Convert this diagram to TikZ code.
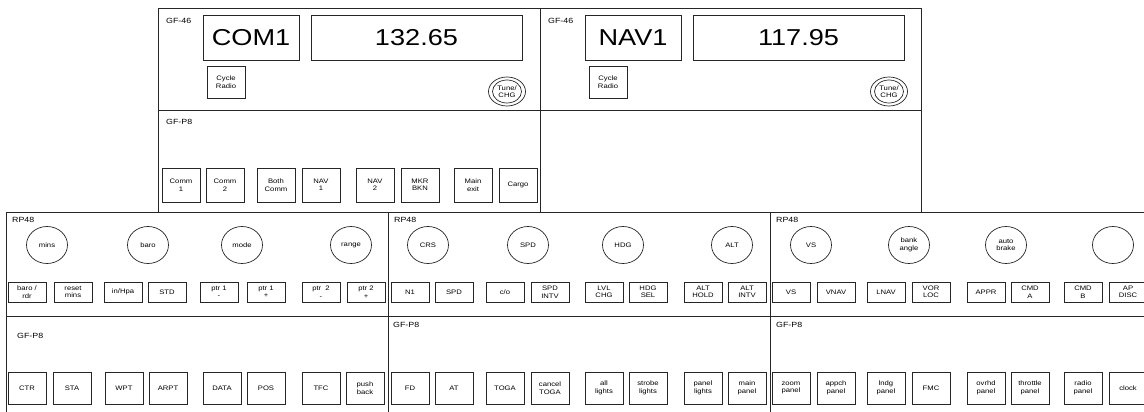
\documentclass[tikz,border=0pt]{standalone}
\usepackage{fontspec}
\setmainfont{Liberation Sans}[FakeStretch=1.18]
\usepackage{tikz}
\usetikzlibrary{shapes.geometric}

\begin{document}
\begin{tikzpicture}[x=1pt,y=-1pt]
\tikzstyle{every node}+=[inner sep=0pt]
\tikzstyle{frame}=[draw=black!85,line width=0.7pt]
\tikzstyle{key}=[frame,minimum width=38pt,align=center,font=\fontsize{6.5}{7.5}\selectfont]
\tikzstyle{tallkey}=[key,minimum height=34pt]
\tikzstyle{flatkey}=[key,minimum height=20pt]
\tikzstyle{knob}=[frame,ellipse,minimum width=41pt,minimum height=37pt,align=center,font=\fontsize{6.5}{7.5}\selectfont]
\tikzstyle{tag}=[anchor=west,font=\fontsize{7.5}{9}\selectfont]
\tikzstyle{display}=[frame,minimum height=45pt,font=\fontsize{23}{26}\selectfont]
\useasboundingbox (0,0) rectangle (1144,412);
\clip (0,0) rectangle (1144,412);
% panel frames
\draw [frame] (158,8) rectangle (540,110);
\draw [frame] (540,8) rectangle (921,110);
\draw [frame] (158,110) rectangle (540,212);
\draw [frame] (540,110) rectangle (921,212);
\draw [frame] (6,212) rectangle (388,316);
\draw [frame] (388,212) rectangle (770,316);
\draw [frame] (770,212) rectangle (1152,316);
\draw [frame] (6,316) rectangle (388,420);
\draw [frame] (388,316) rectangle (770,420);
\draw [frame] (770,316) rectangle (1152,420);
% GF-46 radios
\node [tag] (comtag) at (166,21) {GF-46};
\node [display,minimum width=96pt] (comname) at (251,37.5) {COM1};
\node [display,minimum width=211pt] (comfreq) at (416.5,37.5) {132.65};
\node [key,minimum height=32pt] (comcycle) at (226,82) {Cycle\\Radio};
\node [frame,ellipse,minimum width=37pt,minimum height=29pt] (comtune) at (507,91.5) {};
\node [knob,minimum width=29pt,minimum height=23pt] (comtunein) at (comtune) {Tune/\\CHG};
\node [tag] (navtag) at (548,21) {GF-46};
\node [display,minimum width=96pt] (navname) at (633,37.5) {NAV1};
\node [display,minimum width=211pt] (navfreq) at (798.5,37.5) {117.95};
\node [key,minimum height=32pt] (navcycle) at (608,82) {Cycle\\Radio};
\node [frame,ellipse,minimum width=37pt,minimum height=29pt] (navtune) at (889,91.5) {};
\node [knob,minimum width=29pt,minimum height=23pt] (navtunein) at (navtune) {Tune/\\CHG};
% GF-P8 radio keys
\node [tag] (radiotag) at (166,122) {GF-P8};
\node [tallkey] (ra1) at (181,185) {Comm\\1};
\node [tallkey] (ra2) at (225,185) {Comm\\2};
\node [tallkey] (ra3) at (276,185) {Both\\Comm};
\node [tallkey] (ra4) at (321,185) {NAV\\1};
\node [tallkey] (ra5) at (375,185) {NAV\\2};
\node [tallkey] (ra6) at (420,185) {MKR\\BKN};
\node [tallkey] (ra7) at (473,185) {Main\\exit};
\node [tallkey] (ra8) at (518,185) {Cargo};
% RP48 left
\node [tag] (rpatag) at (12,220) {RP48};
\node [knob] (kna1) at (47,245) {mins};
\node [knob] (kna2) at (148,245) {baro};
\node [knob] (kna3) at (242,245) {mode};
\node [knob] (kna4) at (351,245) {range};
\node [flatkey] (rpa1) at (27,292) {baro /\\rdr};
\node [flatkey] (rpa2) at (73,292) {reset\\mins};
\node [flatkey] (rpa3) at (123,292) {in/Hpa};
\node [flatkey] (rpa4) at (167,292) {STD};
\node [flatkey] (rpa5) at (219,292) {ptr 1\\-};
\node [flatkey] (rpa6) at (266,292) {ptr 1\\+};
\node [flatkey] (rpa7) at (321,292) {ptr~~2\\-};
\node [flatkey] (rpa8) at (366,292) {ptr 2\\+};
% RP48 middle
\node [tag] (rpbtag) at (394,220) {RP48};
\node [knob] (knb1) at (428,245) {CRS};
\node [knob] (knb2) at (528,245) {SPD};
\node [knob] (knb3) at (623,245) {HDG};
\node [knob] (knb4) at (732,245) {ALT};
\node [flatkey] (rpb1) at (410,292) {N1};
\node [flatkey] (rpb2) at (454,292) {SPD};
\node [flatkey] (rpb3) at (505,292) {c/o};
\node [flatkey] (rpb4) at (550,292) {SPD\\INTV};
\node [flatkey] (rpb5) at (604,292) {LVL\\CHG};
\node [flatkey] (rpb6) at (648,292) {HDG\\SEL};
\node [flatkey] (rpb7) at (703,292) {ALT\\HOLD};
\node [flatkey] (rpb8) at (747,292) {ALT\\INTV};
% RP48 right
\node [tag] (rpctag) at (776,220) {RP48};
\node [knob] (knc1) at (811,245) {VS};
\node [knob] (knc2) at (909,245) {bank\\angle};
\node [knob] (knc3) at (1006,245) {auto\\brake};
\node [knob] (knc4) at (1113,245) {};
\node [flatkey] (rpc1) at (791,292) {VS};
\node [flatkey] (rpc2) at (836,292) {VNAV};
\node [flatkey] (rpc3) at (886,292) {LNAV};
\node [flatkey] (rpc4) at (931,292) {VOR\\LOC};
\node [flatkey] (rpc5) at (986,292) {APPR};
\node [flatkey] (rpc6) at (1030,292) {CMD\\A};
\node [flatkey] (rpc7) at (1083,292) {CMD\\B};
\node [flatkey] (rpc8) at (1128,292) {AP\\DISC};
% GF-P8 bottom keys
\node [tag] (gfatag) at (17,336) {GF-P8};
\node [key,minimum height=32pt] (gfa1) at (27,388) {CTR};
\node [key,minimum height=32pt] (gfa2) at (72,388) {STA};
\node [key,minimum height=32pt] (gfa3) at (124,388) {WPT};
\node [key,minimum height=32pt] (gfa4) at (168,388) {ARPT};
\node [key,minimum height=32pt] (gfa5) at (222,388) {DATA};
\node [key,minimum height=32pt] (gfa6) at (266,388) {POS};
\node [key,minimum height=32pt] (gfa7) at (321,388) {TFC};
\node [key,minimum height=32pt] (gfa8) at (365,388) {push\\back};
\node [tag] (gfbtag) at (393,325) {GF-P8};
\node [key,minimum height=32pt] (gfb1) at (410,388) {FD};
\node [key,minimum height=32pt] (gfb2) at (454,388) {AT};
\node [key,minimum height=32pt] (gfb3) at (505,388) {TOGA};
\node [key,minimum height=32pt] (gfb4) at (550,388) {cancel\\TOGA};
\node [key,minimum height=32pt] (gfb5) at (604,388) {all\\lights};
\node [key,minimum height=32pt] (gfb6) at (648,388) {strobe\\lights};
\node [key,minimum height=32pt] (gfb7) at (703,388) {panel\\lights};
\node [key,minimum height=32pt] (gfb8) at (747,388) {main\\panel};
\node [tag] (gfctag) at (776,325) {GF-P8};
\node [key,minimum height=32pt] (gfc1) at (791,388) {zoom\\panel};
\node [key,minimum height=32pt] (gfc2) at (836,388) {appch\\panel};
\node [key,minimum height=32pt] (gfc3) at (886,388) {lndg\\panel};
\node [key,minimum height=32pt] (gfc4) at (931,388) {FMC};
\node [key,minimum height=32pt] (gfc5) at (986,388) {ovrhd\\panel};
\node [key,minimum height=32pt] (gfc6) at (1030,388) {throttle\\panel};
\node [key,minimum height=32pt] (gfc7) at (1083,388) {radio\\panel};
\node [key,minimum height=32pt] (gfc8) at (1128,388) {clock};
\end{tikzpicture}
\end{document}
